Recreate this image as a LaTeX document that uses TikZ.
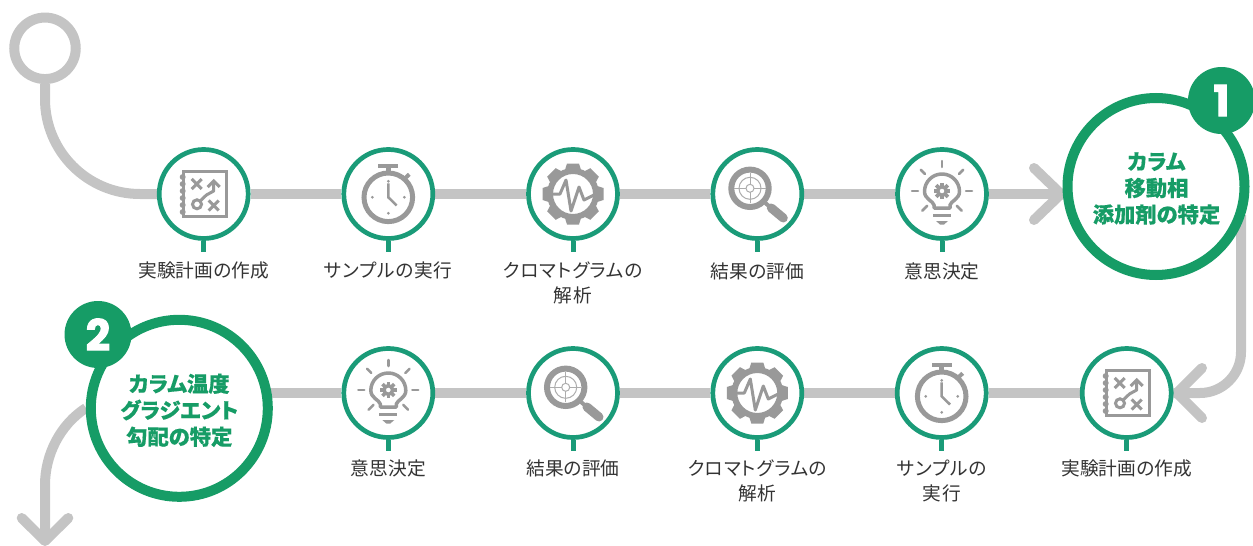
\documentclass[tikz,border=0pt]{standalone}
\usepackage{fontspec}
\setmainfont[RawFeature=+palt,BoldFeatures={FakeBold=0.4}]{Noto Sans CJK JP}
\newfontfamily\badgefont[BoldFeatures={FakeBold=2}]{Poppins}
\usetikzlibrary{backgrounds}
\definecolor{ringteal}{HTML}{1A9B78}
\definecolor{biggreen}{HTML}{169C66}
\definecolor{flowgray}{HTML}{C4C4C4}
\definecolor{icongray}{HTML}{999999}
\definecolor{labelgray}{HTML}{333333}
\tikzset{
	stepring/.style={circle,draw=ringteal,line width=4.7pt,fill=white,minimum size=89pt,inner sep=0pt},
	bigring/.style={circle,draw=biggreen,line width=10pt,fill=white,minimum size=177pt,inner sep=0pt},
	bigtext/.style={align=center,text=biggreen,inner sep=0pt,font=\fontsize{21.3}{26.5}\selectfont\bfseries},
	badge/.style={circle,fill=biggreen,minimum size=67pt,inner sep=0pt,text=white,font=\fontsize{43}{43}\badgefont\bfseries},
	startring/.style={circle,draw=flowgray,line width=10pt,fill=white,minimum size=61.5pt,inner sep=0pt},
	steplabel/.style={align=center,text=labelgray,inner sep=0pt,font=\fontsize{18.7}{25}\selectfont},
	katalabel/.style={steplabel,font=\fontsize{18.7}{25}\selectfont\addfontfeatures{LetterSpace=4}},
	flow/.style={draw=flowgray,line width=10pt},
	flowtip/.style={draw=flowgray,line width=10pt,line cap=round,line join=round},
	stem/.style={draw=ringteal,line width=5pt},
	iconline/.style={draw=icongray,line width=3pt},
	pics/planicon/.style={code={
		\draw[iconline] (-20.5,-22.5) rectangle (22.5,22.8);
		\foreach \y in {-17,-10,-3,4,11,18}
			\fill[icongray] (-21,\y) circle (3);
		\draw[iconline] (-12,-15)--(-2,-5) (-12,-5)--(-2,-15);
		\draw[iconline] (5,6.5)--(15,16.5) (5,16.5)--(15,6.5);
		\draw[iconline] (-6.7,10.3) circle (4.5);
		\draw[iconline,line join=round] (-3,6.5)--(2.7,1)--(10,-3)--(10,-12);
		\draw[iconline] (4,-7)--(10,-13)--(16,-7);
	}},
	pics/timericon/.style={code={
		\draw[draw=icongray,line width=5pt] (0,3.3) circle (24.3);
		\fill[icongray] (-10,-30) rectangle (10,-25.7);
		\draw[draw=icongray,line width=5pt] (0,-26)--(0,-21);
		\draw[draw=icongray,line width=4pt] (16.7,-15.7)--(21,-19.7);
		\draw[draw=icongray,line width=2.5pt] (0,-10.7)--(0,3.3)--(8.3,11.5);
		\foreach \a in {0,90,180,270}
			\fill[icongray] (0,3.3)++(\a:16) circle (1.5);
	}},
	pics/gearicon/.style={code={
		\foreach \a in {0,45,...,315}
			\fill[icongray,rotate=\a] (-6,-30.5)--(6,-30.5)--(9,-21)--(-9,-21)--cycle;
		\draw[draw=icongray,line width=6pt] (0,0) circle (23);
		\draw[draw=icongray,line width=3pt,line join=round] (-21,0)--(-13,0)--(-7,-14)--(-2,17)--(6,-7)--(11,6)--(21,1);
	}},
	pics/lensicon/.style={code={
		\draw[draw=icongray,line width=4pt] (8,9)--(14,14);
		\draw[draw=icongray,line width=9pt,line cap=round] (14,14)--(26,24);
		\draw[draw=icongray,line width=6pt] (-7.3,-5.7) circle (18.7);
		\draw[draw=icongray!80,line width=1pt] (-7.3,-5.7) circle (11) (-7.3,-5.7) circle (4);
		\draw[draw=icongray!80,line width=1pt] (-23,-5.7)--(-11.3,-5.7) (-3.3,-5.7)--(8.4,-5.7) (-7.3,-20.7)--(-7.3,-9.7) (-7.3,-1.7)--(-7.3,9.3);
	}},
	pics/bulbicon/.style={code={
		\draw[draw=icongray,line width=3.5pt,line join=round] (-8,14)--(-8,11) .. controls (-9,7) and (-17.5,5) .. (-17.5,-2.5) arc[start angle=180,end angle=360,radius=17.5] .. controls (17.5,5) and (9,7) .. (8,11)--(8,14)--cycle;
		\fill[icongray] (-9,19.5) rectangle (9,23);
		\fill[icongray] (-6,27)--(6,27)--(2,30.5)--(-2,30.5)--cycle;
		\foreach \a in {180,225,270,315,360}
			\draw[draw=icongray,line width=2.5pt,line cap=round] (0,-3)++(\a:24)--++(\a:6);
		\foreach \a in {45,135}
			\draw[draw=icongray,line width=2.5pt,line cap=round] (0,-3)++(\a:21)--++(\a:7);
		\draw[draw=icongray,line width=3.5pt] (0,-3) circle (4.3);
		\foreach \a in {0,45,...,315}
			\fill[icongray,shift={(0,-3)},rotate=\a] (-1.8,-8.3) rectangle (1.8,-4);
	}}
}
\begin{document}
\begin{tikzpicture}[x=1pt,y=-1pt]
	\useasboundingbox (0,0) rectangle (1253,546);
	\node[startring] (start) at (45,48.3) {};
	% top row
	\node[stepring] (plana) at (203.7,194) {};
	\node[stepring] (timera) at (388.3,194) {};
	\node[stepring] (geara) at (573,194) {};
	\node[stepring] (lensa) at (757.3,194) {};
	\node[stepring] (bulba) at (942,194) {};
	\node[bigring] (mobile) at (1156,186.5) {};
	\node[bigtext] (mobiletext) at (1156.5,188.5) {カラム\\移動相\\添加剤の特定};
	\node[badge] (one) at (1221.5,100.5) {1};
	% bottom row
	\node[stepring] (planb) at (1126.7,393) {};
	\node[stepring] (timerb) at (941.7,393) {};
	\node[stepring] (gearb) at (757.3,393) {};
	\node[stepring] (lensb) at (573,393) {};
	\node[stepring] (bulbb) at (388.3,393) {};
	\node[bigring] (gradient) at (179.3,408.3) {};
	\node[bigtext] (gradienttext) at (179.3,410.3) {カラム温度\\グラジエント\\勾配の特定};
	\node[badge] (two) at (98,334.5) {2};
	\coordinate (mobileend) at (1241,215);
	\coordinate (leave) at (86,408);
	\coordinate (tipa) at (1061,194);
	\coordinate (tipb) at (1177,393);
	\coordinate (tipc) at (45,541);
	% icons and labels
	\foreach \name/\kind in {plana/planicon,planb/planicon,timera/timericon,timerb/timericon,geara/gearicon,gearb/gearicon,lensa/lensicon,lensb/lensicon,bulba/bulbicon,bulbb/bulbicon}{
		\pic at (\name.center) {\kind};
		\draw[stem] (\name.south)--++(0,11);
	}
	\node[steplabel] (labela) at (203.7,270) {実験計画の作成};
	\node[katalabel] (labelb) at (388.3,270) {サンプルの実行};
	\node[katalabel] (labelc) at (573,283) {クロマトグラムの\\解析};
	\node[steplabel] (labeld) at (757.3,271) {結果の評価};
	\node[steplabel] (labele) at (942,271) {意思決定};
	\node[steplabel] (labelf) at (1126.7,468) {実験計画の作成};
	\node[katalabel] (labelg) at (941.7,481) {サンプルの\\実行};
	\node[katalabel] (labelh) at (757.3,481) {クロマトグラムの\\解析};
	\node[steplabel] (labeli) at (573,468) {結果の評価};
	\node[steplabel] (labelj) at (388.3,468) {意思決定};
	\begin{pgfonlayer}{background}
		\draw[flow] (start.south)--(45,99) arc[start angle=180,end angle=90,radius=95]--(plana.west);
		\draw[flow] (plana)--(timera);
		\draw[flow] (timera)--(geara);
		\draw[flow] (geara)--(lensa);
		\draw[flow] (lensa)--(bulba);
		\draw[flow] (bulba)--(tipa);
		\draw[flowtip] (1034,168)--(tipa)--(1034,220);
		\draw[flow] (mobileend)--(1241,352) arc[start angle=0,end angle=90,radius=41]--(planb);
		\draw[flowtip] (1202,368)--(tipb)--(1202,418);
		\draw[flow] (planb)--(timerb);
		\draw[flow] (timerb)--(gearb);
		\draw[flow] (gearb)--(lensb);
		\draw[flow] (lensb)--(bulbb);
		\draw[flow] (bulbb)--(bulbb-|gradient);
		\draw[flow] (leave) .. controls (60.3,424.4) and (45,454.6) .. (45,485)--(tipc);
		\draw[flowtip] (21.7,518)--(tipc)--(68.3,518);
	\end{pgfonlayer}
\end{tikzpicture}
\end{document}
